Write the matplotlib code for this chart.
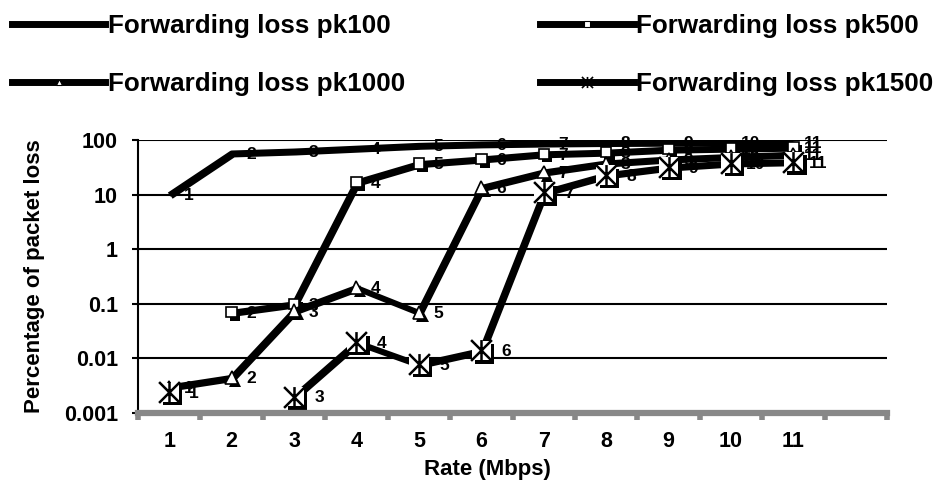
import numpy as np
import matplotlib.pyplot as plt
import matplotlib.patheffects as pe
from matplotlib.path import Path
from matplotlib.lines import Line2D
from matplotlib.ticker import NullLocator

plt.rcParams['font.family'] = ['Liberation Sans', 'DejaVu Sans']
plt.rcParams['font.weight'] = 'bold'

nan = np.nan
rates = [1, 2, 3, 4, 5, 6, 7, 8, 9, 10, 11]
rate_labels = ['1', '2', '3', '4', '5', '6', '7', '8', '9', '10', '11']
pk100 = [10, 58, 63, 71, 80, 85, 88, 90, 91, 92, 92]
pk500 = [nan, 0.07, 0.1, 17, 37, 45, 56, 60, 68, 71, 74]
pk1000 = [0.003, 0.0045, 0.075, 0.2, 0.07, 13.5, 26, 38, 45, 50, 55]
pk1500 = [0.0024, nan, 0.002, 0.02, 0.0078, 0.014, 11, 23, 32, 38, 40]
names = ['Forwarding loss pk100', 'Forwarding loss pk500',
         'Forwarding loss pk1000', 'Forwarding loss pk1500']
yticks = [0.001, 0.01, 0.1, 1, 10, 100]
yticklabels = ['0.001', '0.01', '0.1', '1', '10', '100']

# excel style "star" marker: an X with a vertical bar
star = Path([(-1, -1), (1, 1), (-1, 1), (1, -1), (0, -1), (0, 1)],
            [Path.MOVETO, Path.LINETO, Path.MOVETO, Path.LINETO, Path.MOVETO, Path.LINETO])

line_fx = [pe.SimpleLineShadow(offset=(1.5, -1.5), shadow_color='k', alpha=1), pe.Normal()]
mark_fx = [pe.SimplePatchShadow(offset=(2.5, -2.5), shadow_rgbFace='k', alpha=1), pe.Normal()]

fig = plt.figure(figsize=(9.38, 4.97), dpi=100)
ax = fig.add_axes([138 / 938, 1 - 413 / 497, 749 / 938, 273 / 497])
ax.set_yscale('log')

x = np.array(rates)
series = [pk100, pk500, pk1000, pk1500]
for i, ys in enumerate(series):
    ys = np.array(ys, dtype=float)
    z = 3 + i
    ax.plot(x, ys, color='k', lw=3.5, zorder=z, path_effects=line_fx, solid_capstyle='butt')
    if i == 1:
        ax.plot(x, ys, ls='none', marker='s', ms=7.5, mfc='white', mec='k', mew=1.2,
                zorder=z + 0.5, path_effects=mark_fx)
    elif i == 2:
        ax.plot(x, ys, ls='none', marker='^', ms=9, mfc='white', mec='k', mew=1.2,
                zorder=z + 0.5, path_effects=mark_fx)
    elif i == 3:
        ax.plot(x, ys, ls='none', marker='s', ms=14, mfc='white', mec='none',
                zorder=z + 0.5, path_effects=mark_fx)
        ax.plot(x, ys, ls='none', marker=star, ms=15, mfc='none', mec='k', mew=1.8,
                zorder=z + 0.6)
    dx = 18 if i == 3 else 14
    for xv, yv in zip(x, ys):
        if np.isnan(yv):
            continue
        ax.annotate(str(xv), (xv, yv), xytext=(dx, -1), textcoords='offset points',
                    ha='center', va='center', fontsize=12.5, fontweight='bold', zorder=12)

ax.set_xlim(0.5, 12.5)
ax.set_ylim(0.001, 100)
ax.set_yticks(yticks)
ax.set_yticklabels(yticklabels)
ax.yaxis.set_minor_locator(NullLocator())
ax.tick_params(axis='y', length=4.5, width=1.5, pad=10, labelsize=15.5)

ax.set_xticks(np.arange(0.5, 13, 1))
ax.set_xticklabels([])
ax.set_xticks(rates, minor=True)
ax.set_xticklabels(rate_labels, minor=True)
ax.tick_params(axis='x', which='major', length=5, width=4, color='#888888', direction='out')
ax.tick_params(axis='x', which='minor', length=0, pad=13, labelsize=15.5)

ax.grid(axis='y', color='k', lw=1.5)
ax.set_axisbelow(True)
for s in ['top', 'right']:
    ax.spines[s].set_visible(False)
ax.spines['left'].set_linewidth(1.5)
ax.spines['bottom'].set_color('#888888')
ax.spines['bottom'].set_linewidth(4.5)
ax.spines['bottom'].set_zorder(15)

ax.set_xlabel('Rate (Mbps)', fontsize=16, fontweight='bold')
ax.xaxis.set_label_coords(0.466, -0.17)
ax.set_ylabel('Percentage of packet loss', fontsize=16, fontweight='bold')
ax.yaxis.set_label_coords(-0.124, 0.5)

handles = [
    Line2D([], [], color='k', lw=5),
    Line2D([], [], color='k', lw=5, marker='s', ms=4, mfc='white', mec='k', mew=0.8),
    Line2D([], [], color='k', lw=5, marker='^', ms=4, mfc='white', mec='k', mew=0.8),
    Line2D([], [], color='k', lw=5, marker=star, ms=8, mfc='none', mec='k', mew=1.2),
]
# legend entries go row by row: pk100 | pk500 / pk1000 | pk1500
order = [0, 2, 1, 3]
fig.legend([handles[k] for k in order], [names[k] for k in order], ncol=2,
           loc='upper left', bbox_to_anchor=(12 / 938, 0.972), frameon=False,
           prop={'size': 18.7, 'weight': 'bold'}, handlelength=3.6, handletextpad=0.1,
           columnspacing=5.2, labelspacing=1.3, borderaxespad=0, borderpad=0)

fig.savefig('out.png', dpi=100)
